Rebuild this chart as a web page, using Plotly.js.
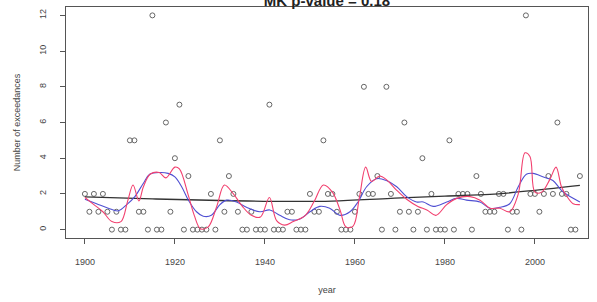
<!DOCTYPE html>
<html>
<head>
<meta charset="utf-8">
<script src="https://cdn.plot.ly/plotly-3.0.1.min.js"></script>
<style>html,body{margin:0;padding:0;background:#fff;}#chart{width:597px;height:302px;}</style>
</head>
<body>
<div id="chart"></div>
<script>
// Annual number of exceedances (open circles)
var years = [1900,1901,1902,1903,1904,1905,1906,1907,1908,1909,
  1910,1911,1912,1913,1914,1915,1916,1917,1918,1919,
  1920,1921,1922,1923,1924,1925,1926,1927,1928,1929,
  1930,1931,1932,1933,1934,1935,1936,1937,1938,1939,
  1940,1941,1942,1943,1944,1945,1946,1947,1948,1949,
  1950,1951,1952,1953,1954,1955,1956,1957,1958,1959,
  1960,1961,1962,1963,1964,1965,1966,1967,1968,1969,
  1970,1971,1972,1973,1974,1975,1976,1977,1978,1979,
  1980,1981,1982,1983,1984,1985,1986,1987,1988,1989,
  1990,1991,1992,1993,1994,1995,1996,1997,1998,1999,
  2000,2001,2002,2003,2004,2005,2006,2007,2008,2009,2010];
var exceedances = [2,1,2,1,2,1,0,1,0,0,
  5,5,1,1,0,12,0,0,6,1,
  4,7,0,3,0,0,0,0,2,0,
  5,1,3,2,1,0,0,1,0,0,
  0,7,0,0,0,1,1,0,0,0,
  2,1,1,5,2,2,1,0,0,0,
  1,2,8,2,2,3,0,8,2,0,
  1,6,1,0,1,4,0,2,0,0,
  0,5,0,2,2,2,0,3,2,1,
  1,1,2,2,0,1,1,0,12,2,
  2,1,2,3,2,6,2,2,0,0,3];

// Short-window smoother (red)
var redYears = [1900,1902,1904,1906,1908,1909.5,1910.7,1912,1913,1914.5,1916.5,1918,1920,1921,1923,1924.3,1925.7,1927.4,1929.3,1931,1933,1935,1937,1939,1941,1942.6,1944.4,1946.3,1949,1951,1953,1955,1956.7,1958,1959.6,1961,1962.4,1963.7,1965.5,1967,1969.3,1971.5,1974,1976,1978,1980.4,1982.6,1985.6,1987.8,1990,1992.2,1994.4,1996.3,1997.8,1998.9,2000,2001.5,2003.3,2004.7,2005.9,2007,2008.5,2010];
var redVals = [1.8,1.4,1.0,0.45,0.45,1.6,2.5,1.6,2.4,3.1,3.2,2.9,3.5,3.4,1.9,0.8,0.05,0.15,1.3,2.5,2.0,1.3,0.8,0.7,1.8,0.5,0.25,0.45,0.8,1.6,2.5,2.1,1.1,0.15,0.2,1.8,3.5,2.7,3.0,2.8,2.2,1.7,1.3,1.1,0.8,1.4,1.75,1.85,1.65,1.2,1.2,1.0,2.0,4.3,4.1,2.1,2.1,2.8,3.5,2.4,1.9,1.45,1.4];

// Wider smoother (blue)
var blueYears = [1900,1902.6,1905.2,1907.4,1909.3,1911.1,1913,1914.4,1916.7,1918.5,1920,1921.5,1923,1924.8,1926.3,1928.1,1930,1931.5,1933.7,1935.9,1938.9,1941.1,1943.3,1945.5,1947.8,1950,1952.2,1954.4,1956.7,1958.9,1960.7,1962.6,1964.8,1967,1969.3,1971.5,1973.7,1975.2,1977.4,1980.4,1982.6,1984.8,1987.8,1990,1992.2,1994.4,1996.3,1998.1,1999.6,2001.9,2004,2005.9,2007.8,2010];
var blueVals = [1.7,1.45,1.2,1.05,1.4,1.85,2.6,3.1,3.2,3.15,2.95,2.4,1.65,1.0,0.75,0.8,1.4,1.65,1.55,1.25,1.0,1.1,0.8,0.55,0.6,1.0,1.3,1.2,0.8,1.0,1.55,2.4,2.85,2.75,2.4,1.85,1.55,1.55,1.3,1.55,1.75,1.65,1.55,1.2,1.25,1.45,2.4,3.1,3.15,2.95,2.75,2.2,1.85,1.55];

// Long-term trend (dark)
var trendYears = [1900,1915,1930,1945,1955,1968,1980,1990,2000,2010];
var trendVals = [1.83,1.72,1.63,1.58,1.6,1.75,1.88,1.97,2.2,2.48];

var xTicks = [1900,1920,1940,1960,1980,2000];
var xTickText = ['1900','1920','1940','1960','1980','2000'];
var yTicks = [0,2,4,6,8,10,12];
var yTickText = ['0','2','4','6','8','10','12'];

var font = 'Liberation Sans, Arial, sans-serif';

var traces = [
  {x: years, y: exceedances, type: 'scatter', mode: 'markers',
   marker: {symbol: 'circle-open', size: 5, color: '#666666', line: {width: 1}}, hoverinfo: 'x+y'},
  {x: trendYears, y: trendVals, type: 'scatter', mode: 'lines',
   line: {color: '#333333', width: 1.3, shape: 'spline'}},
  {x: blueYears, y: blueVals, type: 'scatter', mode: 'lines',
   line: {color: '#5050d2', width: 1.1, shape: 'spline'}},
  {x: redYears, y: redVals, type: 'scatter', mode: 'lines',
   line: {color: '#f2406f', width: 1.1, shape: 'spline'}}
];

var layout = {
  width: 597, height: 302,
  margin: {l: 66, r: 9, t: 7, b: 64},
  paper_bgcolor: '#ffffff', plot_bgcolor: '#ffffff',
  showlegend: false,
  font: {family: font, size: 9, color: '#444'},
  title: {text: '<b>MK p-value = 0.18</b>', font: {family: font, size: 15, color: '#222'},
          x: 0.5, xref: 'paper', y: 0.997, yref: 'container', yanchor: 'middle'},
  xaxis: {
    range: [1895.8, 2011.8], tickvals: xTicks, ticktext: xTickText,
    ticks: 'outside', ticklen: 5, tickcolor: '#555', tickfont: {size: 9, color: '#444'},
    ticklabelstandoff: 10,
    showline: true, mirror: true, linecolor: '#555', linewidth: 1,
    showgrid: false, zeroline: false,
    title: {text: 'year', font: {size: 9, color: '#444'}, standoff: 20}
  },
  yaxis: {
    range: [-0.47, 12.47], tickvals: yTicks, ticktext: yTickText, tickangle: -90,
    ticks: 'outside', ticklen: 5, tickcolor: '#555', tickfont: {size: 9, color: '#444'},
    ticklabelstandoff: 10,
    showline: true, mirror: true, linecolor: '#555', linewidth: 1,
    showgrid: false, zeroline: false,
    title: {text: 'Number of exceedances', font: {size: 9, color: '#444'}, standoff: 16}
  }
};

Plotly.newPlot('chart', traces, layout, {staticPlot: true, displayModeBar: false});
</script>
</body>
</html>
